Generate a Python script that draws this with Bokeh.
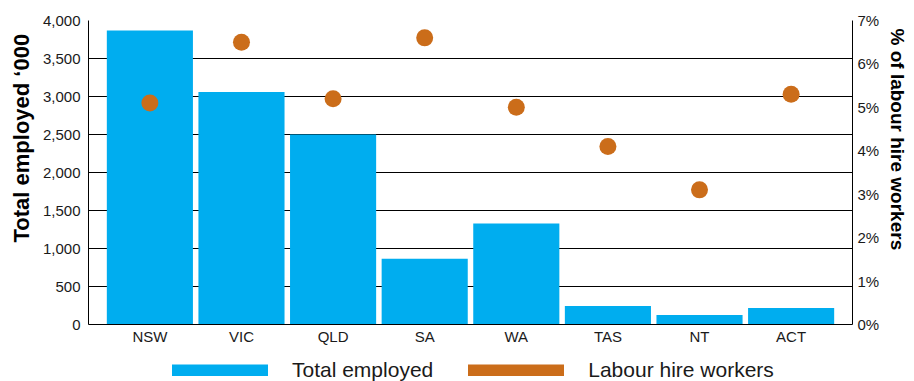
import numpy as np
from bokeh.plotting import figure
from bokeh.layouts import column
from bokeh.models import (ColumnDataSource, Range1d, FactorRange, LinearAxis, FixedTicker,
                          NumeralTickFormatter, PrintfTickFormatter, Legend, LegendItem, Title)
from bokeh.embed import file_html
from bokeh.resources import INLINE

# Employment by state/territory
states = ["NSW", "VIC", "QLD", "SA", "WA", "TAS", "NT", "ACT"]
total_employed = [3870, 3060, 2500, 865, 1330, 245, 125, 218]   # '000
labour_hire_pct = [5.1, 6.5, 5.2, 6.6, 5.0, 4.1, 3.1, 5.3]      # % of labour hire workers

BLUE = "#00adef"
ORANGE = "#cb6d1a"
FONT = "Liberation Sans"

src = ColumnDataSource(dict(state=states, total=total_employed, pct=labour_hire_pct))

p = figure(width=914, height=350, output_backend="svg", toolbar_location=None,
           x_range=FactorRange(*states, range_padding=0.0425, range_padding_units="percent"),
           y_range=Range1d(0, 4000),
           min_border_left=88, min_border_right=62, min_border_top=20, min_border_bottom=26)
p.extra_y_ranges = {"pct": Range1d(0, 7)}
p.outline_line_color = None

p.vbar(x="state", top="total", width=0.94, source=src, color=BLUE, line_color=None)
p.scatter(x="state", y="pct", source=src, y_range_name="pct", size=17,
          color=ORANGE, line_color=None)

# left axis: employment
ya = p.yaxis[0]
ya.ticker = FixedTicker(ticks=list(range(0, 4001, 500)))
ya.formatter = NumeralTickFormatter(format="0,0")

# right axis: labour hire share
ra = LinearAxis(y_range_name="pct", ticker=FixedTicker(ticks=list(range(0, 8))),
                formatter=PrintfTickFormatter(format="%d%%"))
p.add_layout(ra, "right")

for ax in (ya, ra):
    ax.major_tick_out = 0
    ax.major_tick_in = 0
    ax.minor_tick_out = 0
    ax.minor_tick_in = 0
    ax.axis_line_color = "black"
    ax.major_label_text_font = FONT
    ax.major_label_text_font_size = "15px"
    ax.major_label_text_color = "#1a1a1a"
ya.major_label_standoff = 8
ra.major_label_standoff = 5

# axis titles, set a little above the middle of each axis
p.add_layout(Title(text="Total employed \u2018000", align="left", offset=82,
                   text_font=FONT, text_font_size="22px", text_font_style="bold",
                   text_color="black", standoff=12), "left")
p.add_layout(Title(text="% of labour hire workers", align="left", offset=8,
                   text_font=FONT, text_font_size="19px", text_font_style="bold",
                   text_color="black", standoff=8), "right")

xa = p.xaxis[0]
xa.major_tick_out = 0
xa.major_tick_in = 0
xa.axis_line_color = "black"
xa.major_label_text_font = FONT
xa.major_label_text_font_size = "15px"
xa.major_label_text_color = "#1a1a1a"
xa.major_label_standoff = 3

p.xgrid.grid_line_color = None
p.ygrid.grid_line_color = "black"
p.ygrid.ticker = FixedTicker(ticks=list(range(0, 4001, 500)))

# legend strip underneath
leg = figure(width=914, height=31, output_backend="svg", toolbar_location=None,
             x_range=Range1d(0, 1), y_range=Range1d(0, 1),
             x_axis_type=None, y_axis_type=None, min_border=0)
leg.outline_line_color = None
leg.xgrid.visible = False
leg.ygrid.visible = False

nan = np.array([np.nan, np.nan])
sw_blue = leg.line(x=nan, y=nan, line_color=BLUE, line_width=12,
                   line_cap="round", line_join="round")
sw_orange = leg.line(x=nan, y=nan, line_color=ORANGE, line_width=12,
                     line_cap="round", line_join="round")

legend = Legend(items=[LegendItem(label="Total employed", renderers=[sw_blue]),
                       LegendItem(label="Labour hire workers", renderers=[sw_orange])],
                orientation="horizontal", location=(84, -1),
                glyph_width=96, glyph_height=12, label_standoff=24, spacing=35,
                label_text_font=FONT, label_text_font_size="21px", label_text_color="#1a1a1a",
                border_line_color=None, background_fill_alpha=0,
                padding=0, margin=0, label_height=20)
leg.add_layout(legend, "center")

open("out.html", "w").write(file_html(column(p, leg, spacing=0), INLINE))
